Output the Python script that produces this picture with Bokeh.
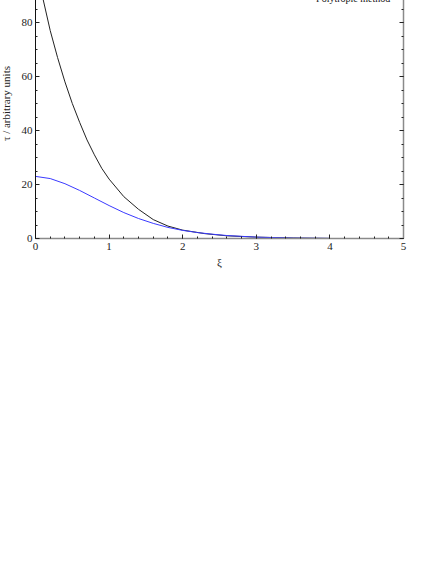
from bokeh.plotting import figure
from bokeh.models import LinearAxis, FixedTicker, Range1d
from bokeh.core.properties import value
from bokeh.embed import file_html
from bokeh.resources import INLINE

# ---- data ----
xi_black = [0.0, 0.1, 0.2, 0.3, 0.4, 0.5, 0.6, 0.7, 0.8, 0.9, 1.0, 1.2, 1.4, 1.6, 1.8, 2.0, 2.3, 2.6, 3.0, 3.5, 4.0]
tau_black = [101, 89, 77, 67, 58, 50, 43, 36.5, 31, 26, 22, 15.5, 10.8, 7.0, 4.6, 3.1, 1.8, 1.0, 0.5, 0.2, 0.05]

xi_blue = [0.0, 0.2, 0.4, 0.6, 0.8, 1.0, 1.2, 1.4, 1.6, 1.8, 2.0, 2.2, 2.4, 2.6, 3.0, 3.5, 4.0]
tau_blue = [23.0, 22.2, 20.3, 17.8, 15.0, 12.2, 9.6, 7.4, 5.6, 4.1, 3.0, 2.2, 1.6, 1.1, 0.5, 0.15, 0.05]

x_major = [0, 1, 2, 3, 4, 5]
x_minor = [i / 5 for i in range(26)]
y_major = [0, 20, 40, 60, 80, 100]
y_minor = [i * 5 for i in range(21)]

legend_label = "Polytropic method"
x_title = "ξ"
y_title = "τ / arbitrary units"

FONT = "Times New Roman"

p = figure(width=422, height=310, output_backend="svg", toolbar_location=None,
           x_range=Range1d(0, 5), y_range=Range1d(0, 100),
           min_border_left=34, min_border_right=15, min_border_top=5, min_border_bottom=35,
           x_axis_location=None, y_axis_location=None)
p.margin = (-37, 0, 0, -4)
p.outline_line_color = None
p.xgrid.visible = False
p.ygrid.visible = False
p.background_fill_color = "white"
p.border_fill_color = "white"

def style_axis(ax, line_color, line_width):
    ax.axis_line_color = line_color
    ax.axis_line_width = line_width
    ax.major_tick_in = 4
    ax.major_tick_out = 0
    ax.minor_tick_in = 2
    ax.minor_tick_out = 0
    ax.major_tick_line_color = "#222222"
    ax.minor_tick_line_color = "#222222"
    ax.major_label_text_font = FONT
    ax.major_label_text_font_size = "11px"
    ax.major_label_text_color = "#222222"
    ax.axis_label_text_font = FONT
    ax.axis_label_text_font_style = "normal"
    ax.axis_label_text_color = "#222222"

xaxis = LinearAxis(ticker=FixedTicker(ticks=x_major, minor_ticks=x_minor), axis_label=x_title)
style_axis(xaxis, "#8a8a8a", 1.5)
xaxis.major_label_standoff = 4
xaxis.axis_label_standoff = 3
xaxis.axis_label_text_font_size = "11px"
p.add_layout(xaxis, "below")

yaxis = LinearAxis(ticker=FixedTicker(ticks=y_major[:-1], minor_ticks=y_minor), axis_label=y_title)
style_axis(yaxis, "#111111", 1)
yaxis.major_label_standoff = 3
yaxis.axis_label_standoff = 7
yaxis.axis_label_text_font_size = "11px"
p.add_layout(yaxis, "left")

raxis = LinearAxis(ticker=FixedTicker(ticks=y_major, minor_ticks=y_minor))
style_axis(raxis, "#8a8a8a", 1.5)
raxis.major_label_overrides = {t: "" for t in y_major}
raxis.major_label_standoff = 0
p.add_layout(raxis, "right")

p.line(xi_black, tau_black, line_color="#222222", line_width=1)
p.line(xi_blue, tau_blue, line_color="#3a3aff", line_width=1)

p.text(x=[4.82], y=[88.9], text=[legend_label], text_font=value(FONT),
       text_font_size="10px", text_align="right", text_baseline="alphabetic",
       text_color="#111111")

open("out.html", "w").write(file_html(p, INLINE))
